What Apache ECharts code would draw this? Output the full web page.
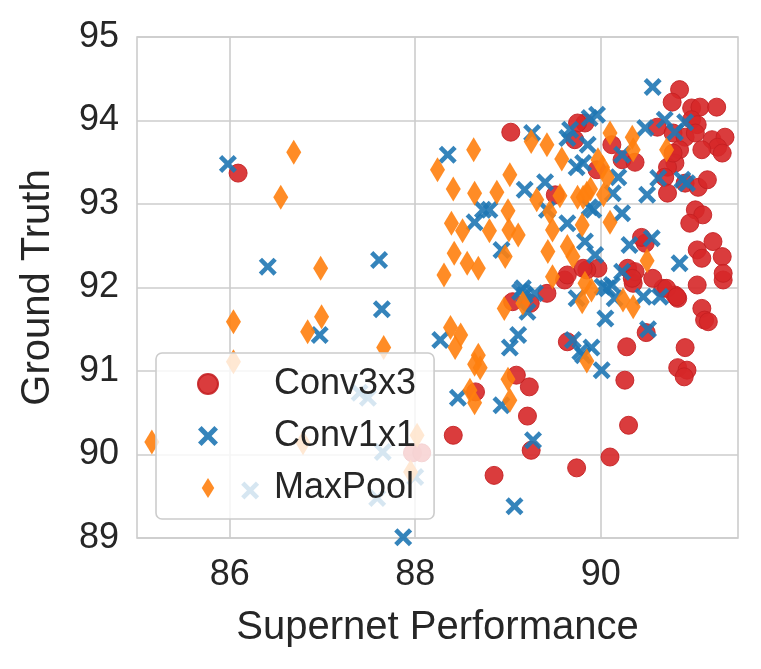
<!DOCTYPE html>
<html>
<head>
<meta charset="utf-8">
<script src="https://cdn.jsdelivr.net/npm/echarts@6/dist/echarts.min.js"></script>
<style>
  html, body { margin: 0; padding: 0; background: #fff; }
  #main { width: 761px; height: 669px; }
</style>
</head>
<body>
<div id="main"></div>
<script>
// data: [supernet performance, ground truth]
var names = ['Conv3x3', 'Conv1x1', 'MaxPool'];
var xTicks = [86, 88, 90];

var conv3x3 = [
    [86.09, 93.37], [87.97, 90.02], [88.07, 90.02], [88.41, 90.23], [88.85, 89.75],
    [89.25, 90.05], [89.21, 90.46], [89.23, 90.81], [89.09, 90.95], [88.65, 90.75],
    [89.74, 89.84], [90.10, 89.97], [90.30, 90.35], [90.26, 90.89], [90.28, 91.29],
    [89.64, 91.35], [90.49, 91.46], [90.91, 91.28], [90.83, 91.04], [90.93, 91.01],
    [90.90, 90.93], [91.04, 92.03], [91.09, 91.75], [91.12, 91.61], [91.16, 91.59],
    [90.80, 91.91], [90.83, 91.87], [90.67, 91.99], [90.35, 92.05], [89.05, 91.83],
    [89.24, 91.81], [89.42, 91.93], [89.61, 92.09], [91.32, 92.09], [90.48, 92.53],
    [90.29, 92.23], [90.37, 92.19], [90.34, 92.11], [90.56, 92.11], [90.71, 91.99],
    [90.82, 91.89], [91.04, 92.45], [91.09, 92.35], [91.21, 92.55], [91.31, 92.37],
    [91.32, 92.17], [89.97, 92.23], [90.85, 94.37], [90.77, 94.22], [90.98, 94.15],
    [91.07, 94.16], [91.25, 94.16], [90.98, 94.01], [91.04, 93.95], [90.61, 93.92],
    [90.78, 93.85], [90.91, 93.80], [91.02, 93.85], [91.20, 93.77], [91.34, 93.80],
    [91.26, 93.68], [91.09, 93.65], [91.31, 93.61], [90.85, 93.65], [90.80, 93.49],
    [90.72, 93.44], [90.69, 93.32], [90.72, 93.13], [90.91, 93.25], [91.05, 93.20],
    [91.15, 93.29], [91.02, 92.93], [91.10, 92.87], [90.96, 92.77], [90.12, 93.71],
    [90.23, 93.53], [90.37, 93.50], [90.44, 92.60], [89.96, 93.41], [89.83, 93.97],
    [89.03, 93.86], [89.75, 93.97], [89.72, 93.77], [89.51, 93.11], [89.85, 92.21],
    [89.64, 92.15], [89.81, 92.23], [90.78, 93.61]
];

var conv1x1 = [
    [85.98, 93.48], [86.41, 92.25], [87.61, 92.33], [87.64, 91.74], [86.97, 91.43],
    [87.40, 90.74], [87.49, 90.68], [87.65, 90.03], [88.00, 89.73], [87.59, 89.48],
    [86.22, 89.57], [87.87, 89.01], [88.27, 91.37], [88.46, 90.68], [88.93, 90.59],
    [89.02, 91.28], [89.11, 91.43], [89.27, 90.17], [89.07, 89.38], [89.21, 91.71],
    [89.18, 91.91], [89.29, 91.93], [89.70, 91.37], [89.81, 91.19], [89.90, 91.28],
    [90.01, 91.01], [90.05, 91.63], [89.74, 91.87], [90.15, 91.87], [90.46, 91.89],
    [90.64, 91.89], [90.51, 91.50], [90.02, 92.01], [90.12, 92.03], [90.31, 92.51],
    [90.55, 92.59], [90.85, 92.29], [90.23, 92.19], [90.07, 91.99], [89.94, 92.39],
    [89.83, 92.55], [90.56, 94.40], [89.96, 94.07], [89.88, 94.03], [90.48, 93.91],
    [90.69, 94.01], [90.91, 93.98], [90.80, 93.86], [89.86, 93.71], [90.23, 93.59],
    [90.19, 93.32], [90.62, 93.31], [90.88, 93.29], [90.93, 93.25], [90.50, 93.11],
    [89.92, 92.93], [90.23, 92.89], [90.13, 93.13], [88.35, 93.59], [89.26, 93.85],
    [89.67, 93.89], [89.64, 93.79], [89.74, 93.44], [89.81, 93.49], [89.40, 93.26],
    [89.18, 93.17], [88.73, 92.93], [88.80, 92.93], [88.64, 92.78], [89.64, 92.77],
    [89.42, 92.93], [88.93, 92.45], [89.16, 91.99], [89.88, 92.96], [89.13, 91.95],
    [89.78, 91.23]
];

var maxPool = [
    [86.69, 93.62], [86.55, 93.08], [86.98, 92.23], [86.04, 91.59], [86.99, 91.65],
    [86.84, 91.47], [87.66, 91.28], [86.04, 91.11], [85.16, 90.15], [86.79, 90.14],
    [88.02, 90.23], [87.95, 89.79], [88.24, 93.41], [88.63, 93.65], [88.41, 93.18],
    [88.64, 93.13], [88.88, 93.14], [89.02, 93.35], [89.25, 93.75], [89.42, 93.71],
    [89.58, 93.54], [89.56, 93.10], [89.31, 93.05], [89.00, 92.92], [88.39, 92.77],
    [88.51, 92.68], [88.80, 92.68], [89.01, 92.69], [89.11, 92.63], [89.45, 92.90],
    [89.48, 92.69], [89.80, 92.75], [89.81, 93.08], [90.10, 93.85], [90.34, 93.80],
    [90.35, 93.65], [90.71, 93.65], [89.97, 93.53], [90.02, 93.44], [90.07, 93.32],
    [89.89, 93.18], [90.03, 93.11], [89.75, 93.08], [89.85, 93.13], [90.10, 92.78],
    [88.42, 92.41], [88.56, 92.29], [88.68, 92.23], [88.31, 92.15], [88.97, 92.37],
    [89.43, 92.43], [89.48, 92.13], [89.64, 92.49], [89.70, 92.37], [89.83, 92.05],
    [90.50, 92.32], [88.96, 91.75], [89.16, 91.81], [88.38, 91.52], [88.49, 91.43],
    [88.43, 91.28], [88.68, 91.19], [88.64, 91.08], [88.70, 91.04], [88.59, 90.77],
    [88.64, 90.62], [89.00, 90.90], [89.02, 90.65], [89.80, 91.83], [89.85, 91.12],
    [90.24, 91.85], [90.35, 91.77], [89.90, 91.97]
];

var FONT = 'Liberation Sans, Arial, Helvetica, sans-serif';
var TEXT = '#262626';
var GRID = '#cccccc';
var xPath = 'path://M0,1.8L1.8,0L5,3.2L8.2,0L10,1.8L6.8,5L10,8.2L8.2,10L5,6.8L1.8,10L0,8.2L3.2,5Z';
var diamondPath = 'path://M5,0L10,8L5,16L0,8Z';

var app = echarts.init(document.getElementById('main'));

var option = {
    animation: false,
    backgroundColor: '#ffffff',
    grid: {
        left: 137, top: 37, width: 601, height: 501,
        show: true, borderColor: GRID, borderWidth: 1.6
    },
    legend: {
        orient: 'vertical',
        left: 156, top: 353,
        padding: [13, 18, 13, 41],
        itemWidth: 62, itemHeight: 20, itemGap: 16,
        backgroundColor: 'rgba(255,255,255,0.8)',
        borderColor: GRID, borderWidth: 1.6, borderRadius: 6,
        selectedMode: false,
        data: [
            {name: names[0], icon: 'circle'},
            {name: names[1], icon: xPath},
            {name: names[2], icon: diamondPath}
        ],
        formatter: function (name) { return '{g|}' + name; },
        textStyle: {
            fontSize: 36, fontFamily: FONT, color: TEXT, lineHeight: 36,
            rich: {g: {width: 30}}
        }
    },
    xAxis: {
        type: 'value', min: 85, max: 91.48,
        name: 'Supernet Performance', nameLocation: 'middle', nameGap: 70,
        nameTextStyle: {fontSize: 40, fontFamily: FONT, color: TEXT},
        axisLine: {show: false},
        axisTick: {show: false, customValues: xTicks},
        axisLabel: {customValues: xTicks, fontSize: 36, fontFamily: FONT, color: TEXT, margin: 19},
        splitLine: {show: true, lineStyle: {color: GRID, width: 1.6}}
    },
    yAxis: {
        type: 'value', min: 89, max: 95, interval: 1,
        name: 'Ground Truth', nameLocation: 'middle', nameGap: 79, nameRotate: 90,
        nameTextStyle: {fontSize: 40, fontFamily: FONT, color: TEXT},
        axisLine: {show: false},
        axisTick: {show: false},
        axisLabel: {fontSize: 36, fontFamily: FONT, color: TEXT, margin: 18},
        splitLine: {show: true, lineStyle: {color: GRID, width: 1.6}}
    },
    series: [
        {
            name: names[0], type: 'scatter', data: conv3x3,
            symbol: 'circle', symbolSize: 18, silent: true,
            itemStyle: {color: '#d62728', opacity: 0.9, borderColor: '#c42022', borderWidth: 1}
        },
        {
            name: names[1], type: 'scatter', data: conv1x1,
            symbol: xPath, symbolSize: 18, silent: true,
            itemStyle: {color: '#1f77b4', opacity: 0.9}
        },
        {
            name: names[2], type: 'scatter', data: maxPool,
            symbol: 'diamond', symbolSize: [15, 25], silent: true,
            itemStyle: {color: '#ff7f0e', opacity: 0.9}
        }
    ]
};

app.setOption(option);
</script>
</body>
</html>
